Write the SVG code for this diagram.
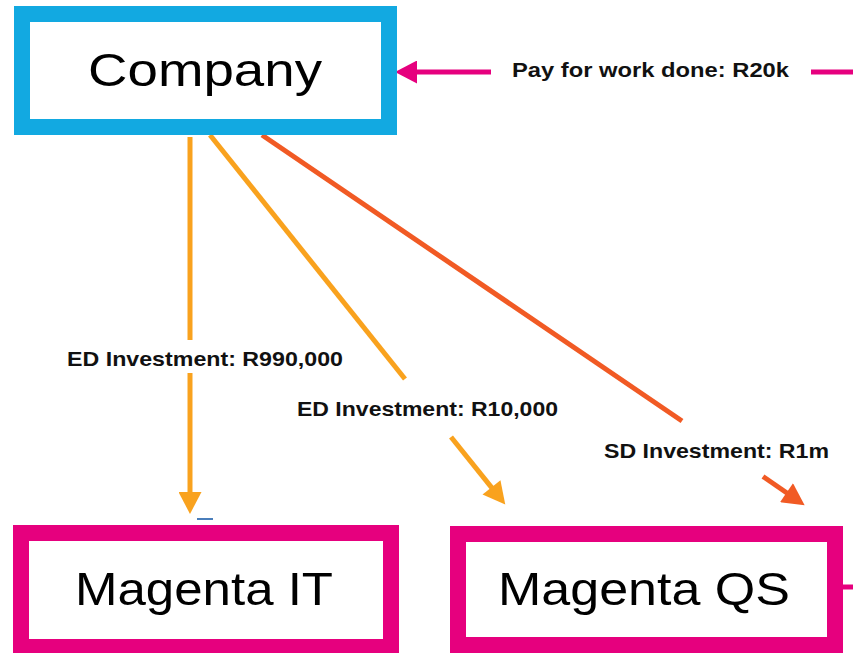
<svg xmlns="http://www.w3.org/2000/svg" width="853" height="653" viewBox="0 0 853 653">
<style>
.box{fill:#ffffff;stroke-width:16}
.blue{stroke:#12a9e1}
.mag{stroke:#e6007e}
.node{font-family:"Liberation Sans",Arial,sans-serif;font-size:47px;fill:#000;text-anchor:middle}
.lbl{font-family:"Liberation Sans",Arial,sans-serif;font-size:21px;font-weight:bold;fill:#111}
.c{fill:none;stroke-width:5}
.or{stroke:#f9a21e}
.rd{stroke:#f15a24}
.mg{stroke:#e6007e}
</style>
<defs>
<marker id="aOr" markerUnits="userSpaceOnUse" markerWidth="23" markerHeight="23" refX="8" refY="11.5" orient="auto" viewBox="0 0 22 23"><path d="M0,0 L22,11.5 L0,23 z" fill="#f9a21e"/></marker>
<marker id="aRd" markerUnits="userSpaceOnUse" markerWidth="23" markerHeight="23" refX="8" refY="11.5" orient="auto" viewBox="0 0 22 23"><path d="M0,0 L22,11.5 L0,23 z" fill="#f15a24"/></marker>
<marker id="aMg" markerUnits="userSpaceOnUse" markerWidth="23" markerHeight="23" refX="8" refY="11.5" orient="auto" viewBox="0 0 22 23"><path d="M0,0 L22,11.5 L0,23 z" fill="#e6007e"/></marker>
</defs>
<rect width="853" height="653" fill="#ffffff"/>
<g id="connectors">
<line class="c or" x1="190" y1="137" x2="190" y2="340"/>
<line class="c or" x1="190" y1="373" x2="190" y2="500" marker-end="url(#aOr)"/>
<line class="c or" x1="210" y1="135" x2="405" y2="379"/>
<line class="c or" x1="451" y1="437" x2="496.5" y2="493.6" marker-end="url(#aOr)"/>
<line class="c rd" x1="262" y1="135" x2="682" y2="421"/>
<line class="c rd" x1="763" y1="476.5" x2="793.1" y2="497.2" marker-end="url(#aRd)"/>
<line class="c mg" x1="491" y1="72" x2="409" y2="72" marker-end="url(#aMg)"/>
<line class="c mg" x1="811" y1="72" x2="853" y2="72"/>
<line class="c mg" x1="843" y1="587" x2="853" y2="587"/>
<line x1="197" y1="519" x2="213" y2="519" stroke="#4a7ebb" stroke-width="2"/>
<text class="lbl" x="512" y="77" textLength="277" lengthAdjust="spacingAndGlyphs">Pay for work done: R20k</text>
<text class="lbl" x="67" y="366" textLength="276" lengthAdjust="spacingAndGlyphs">ED Investment: R990,000</text>
<text class="lbl" x="297" y="416" textLength="261" lengthAdjust="spacingAndGlyphs">ED Investment: R10,000</text>
<text class="lbl" x="604" y="458" textLength="225" lengthAdjust="spacingAndGlyphs">SD Investment: R1m</text>
</g>
<g id="company">
<rect class="box blue" x="22" y="14" width="367" height="113"/>
<text class="node" x="205" y="86" textLength="234" lengthAdjust="spacingAndGlyphs">Company</text>
</g>
<g id="magenta-it">
<rect class="box mag" x="21" y="533" width="370" height="114"/>
<text class="node" x="204" y="605" textLength="258" lengthAdjust="spacingAndGlyphs">Magenta IT</text>
</g>
<g id="magenta-qs">
<rect class="box mag" x="458" y="534" width="377" height="111"/>
<text class="node" x="644" y="605" textLength="292" lengthAdjust="spacingAndGlyphs">Magenta QS</text>
</g>
</svg>
